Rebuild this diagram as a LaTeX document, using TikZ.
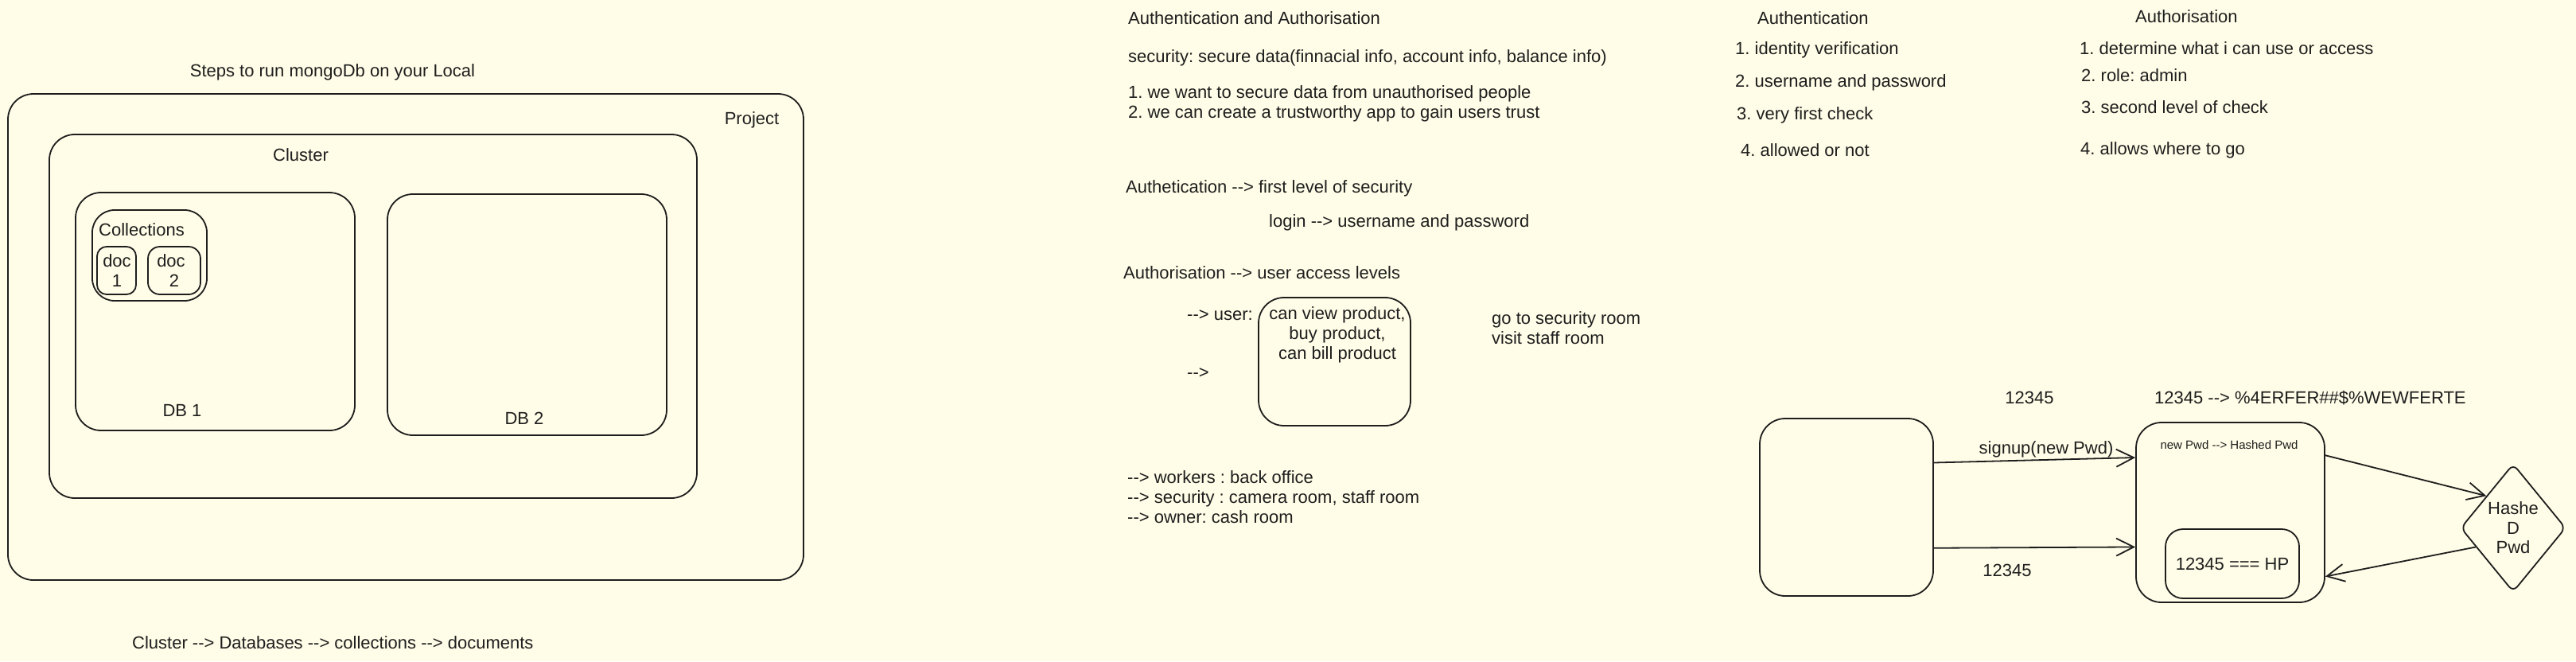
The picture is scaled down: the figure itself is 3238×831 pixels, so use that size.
\documentclass[tikz,border=0pt]{standalone}
\usepackage{fontspec}
\setmainfont{Liberation Sans}
\usetikzlibrary{shapes.geometric, arrows.meta}
\definecolor{paper}{RGB}{255,253,231}
\definecolor{ink}{RGB}{30,30,30}
\newcommand{\arw}{-\kern0pt->}
\frenchspacing

\begin{document}
\begin{tikzpicture}[x = 1pt, y = -1pt,
  box/.style = {draw = ink, line width = 1.8pt, rounded corners = 32pt, inner sep = 0pt, text = ink, font = \fontsize{22}{24.5}\selectfont},
  note/.style = {font = \fontsize{22}{25}\selectfont, text = ink, inner sep = 0pt, anchor = west, text height = 15pt, text depth = 4pt},
  block/.style = {font = \fontsize{22}{25}\selectfont, text = ink, inner sep = 0pt, anchor = west, align = left},
  flow/.style = {draw = ink, line width = 1.8pt, -{Straight Barb[length = 22pt, width = 22pt]}}]

\useasboundingbox (0, 0) rectangle (3238, 831);
\fill [paper] (0, 0) rectangle (3238, 831);

% mongoDb layout
\node [note, anchor = center] (title) at (418, 91) {Steps to run mongoDb on your Local};
\node [box, minimum width = 1000pt, minimum height = 611pt] (project) at (510, 423.5) {};
\node [note, anchor = center] (projectlbl) at (945, 151) {Project};
\node [box, minimum width = 814pt, minimum height = 457pt] (cluster) at (469, 397.5) {};
\node [note, anchor = center] (clusterlbl) at (378, 197) {Cluster};

\node [box, minimum width = 351pt, minimum height = 299pt] (db1) at (270.5, 391.5) {};
\node [note, anchor = center] (db1lbl) at (229, 518) {DB 1};
\node [box, minimum width = 351pt, minimum height = 303pt] (db2) at (662.5, 395.5) {};
\node [note, anchor = center] (db2lbl) at (659, 528) {DB 2};

\node [box, rounded corners = 28pt, minimum width = 144pt, minimum height = 114pt] (coll) at (188, 321) {};
\node [note] (colllbl) at (124, 291) {Collections};
\node [box, rounded corners = 12pt, minimum width = 49pt, minimum height = 60pt] (doc1) at (146.5, 340) {};
\node [block, anchor = center, align = center] (doc1lbl) at (147, 340) {doc\\1};
\node [box, rounded corners = 15pt, minimum width = 66pt, minimum height = 60pt] (doc2) at (219, 340) {};
\node [block, anchor = center, align = center] (doc2lbl) at (215, 340) {doc\\\hspace*{8pt}2};

\node [note] (hierarchy) at (166, 810) {Cluster \arw\ Databases \arw\ collections \arw\ documents};

% authentication and authorisation notes
\node [note] (authhead) at (1418, 25) {Authentication and Authorisation};
\node [note] (security) at (1418, 73) {security: secure data(finnacial info, account info, balance info)};
\node [block] (reasons) at (1418, 130) {1. we want to secure data from unauthorised people\\2. we can create a trustworthy app to gain users trust};
\node [note] (authn) at (1415, 237) {Authetication \arw\ first level of security};
\node [note] (login) at (1595, 280) {login \arw\ username and password};
\node [note] (authz) at (1412, 345) {Authorisation \arw\ user access levels};

\node [note] (userarw) at (1492, 397) {\arw\ user:};
\node [box, minimum width = 191pt, minimum height = 161pt] (userbox) at (1677.5, 454.5) {};
\node [block, anchor = center, align = center] (usertxt) at (1681, 421) {can view product,\\buy product,\\can bill product};
\node [note] (nextarw) at (1492, 470) {\arw};
\node [block] (rooms) at (1875, 412) {go to security room\\visit staff room};
\node [block] (roles) at (1417, 624.5) {\arw\ workers : back office\\\arw\ security : camera room, staff room\\\arw\ owner: cash room};

% comparison columns
\node [note] (authncol) at (2209, 25) {Authentication};
\node [note] (n1) at (2181, 63) {1. identity verification};
\node [note] (n2) at (2181, 104) {2. username and password};
\node [note] (n3) at (2183, 145) {3. very first check};
\node [note] (n4) at (2188, 191) {4. allowed or not};

\node [note] (authzcol) at (2684, 23) {Authorisation};
\node [note] (z1) at (2614, 63) {1. determine what i can use or access};
\node [note] (z2) at (2616, 97) {2. role: admin};
\node [note] (z3) at (2616, 137) {3. second level of check};
\node [note] (z4) at (2615, 189) {4. allows where to go};

% password hashing
\node [note, anchor = center] (plain) at (2551, 502) {12345};
\node [note] (hashdemo) at (2708, 502) {12345 \arw\ \%4ERFER\#\#\$\%WEWFERTE};
\node [box, minimum width = 218pt, minimum height = 223pt] (client) at (2321, 637.5) {};
\node [box, minimum width = 237pt, minimum height = 226pt] (server) at (2803.5, 644) {};
\node [note, font = \fontsize{15}{18}\selectfont, anchor = center] (hashstep) at (2802, 559) {new Pwd \arw\ Hashed Pwd};
\node [box, rounded corners = 22pt, minimum width = 168pt, minimum height = 87pt] (compare) at (2806, 708.5) {12345 === HP};
\node [box, shape = diamond, rounded corners = 8pt, minimum width = 132pt, minimum height = 161pt, align = center] (hash) at (3159, 663.5) {Hashe\\D\\Pwd};

\path [flow] (client.27) -- (server.150);
\node [note, anchor = center] (signup) at (2572, 565) {signup(new Pwd)};
\path [flow] (client.-25) -- (server.200);
\node [note, anchor = center] (login2) at (2523, 719) {12345};
\path [flow] (server.31) -- (hash.130);
\path [flow] (hash.207) -- (server.-34);

\end{tikzpicture}
\end{document}
